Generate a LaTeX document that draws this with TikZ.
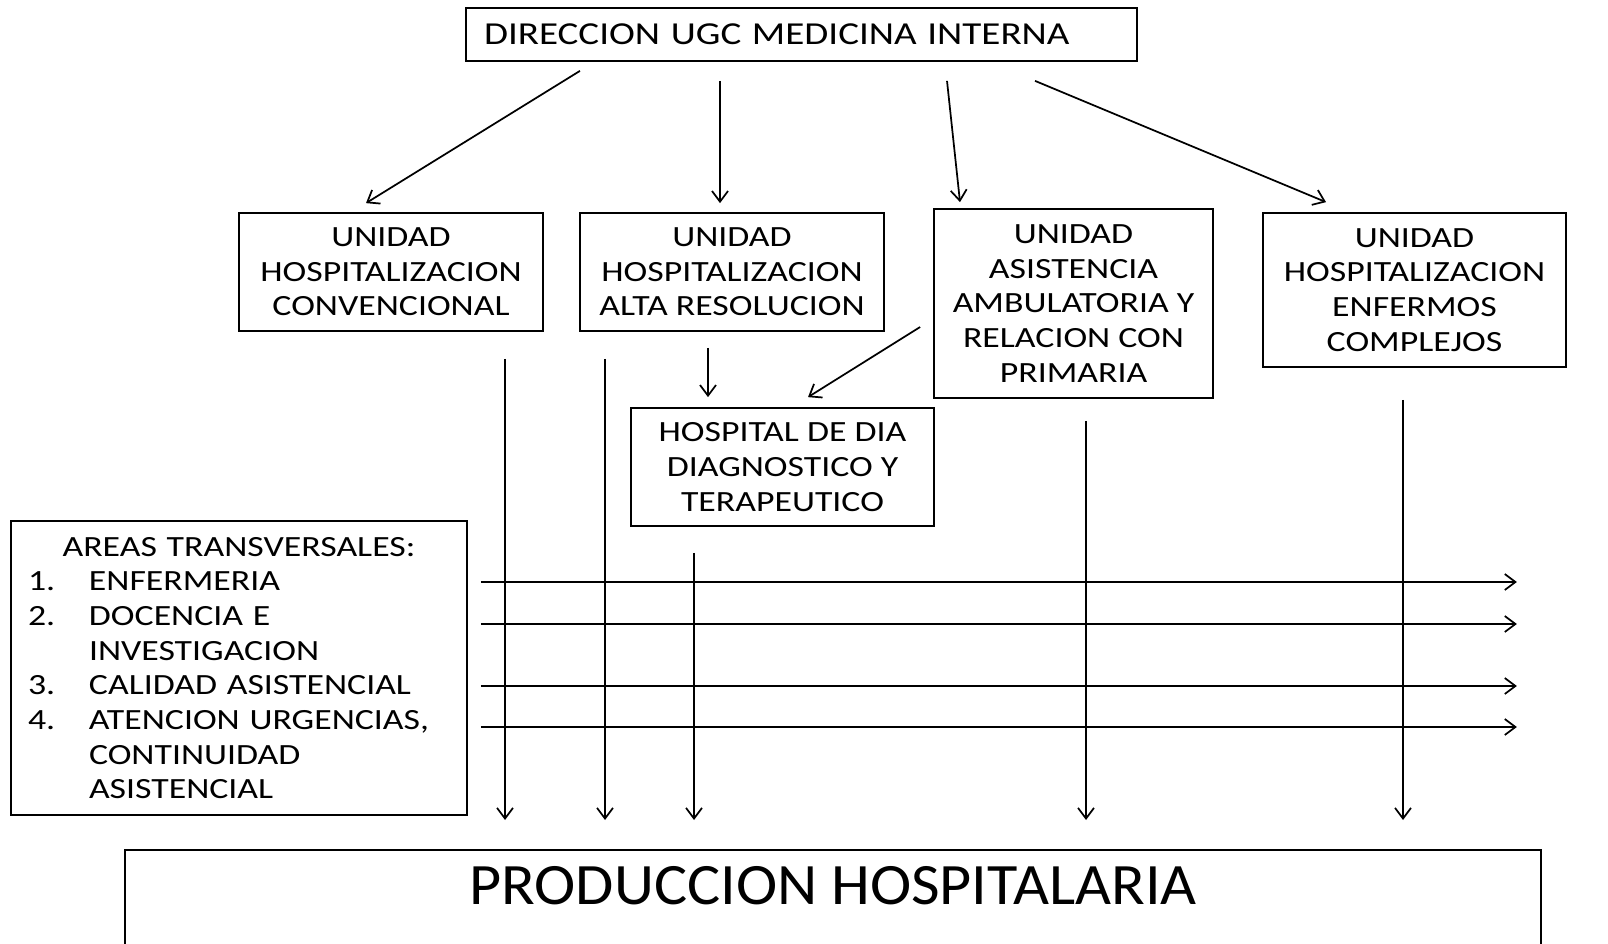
\documentclass[tikz,border=0pt]{standalone}
\usepackage{fontspec}
\setmainfont{Carlito}
\newfontfamily\cajafont{Carlito}[FakeStretch=1.22]
\newfontfamily\prodfont{Carlito}[FakeStretch=1.06]
\usetikzlibrary{arrows.meta,calc,positioning}

\begin{document}
\begin{tikzpicture}[x=0.75pt, y=-0.75pt,
    caja/.style={draw, line width=1.3pt, align=center, inner sep=0pt, font=\cajafont\fontsize{22}{26}\selectfont},
    flecha/.style={-{Straight Barb[length=8pt,width=12pt]}, line width=1.3pt}]

    \useasboundingbox (0,0) rectangle (1608,944);

    \node[caja, minimum width=503.25pt, minimum height=39.75pt, text width=476.25pt, align=left,
          font=\cajafont\fontsize{24}{26}\selectfont] (dir) at (801.5,34.5) {DIRECCION UGC MEDICINA INTERNA};

    \node[caja, minimum width=228pt, minimum height=88.5pt] (uhc) at (391,272) {UNIDAD\\HOSPITALIZACION\\CONVENCIONAL};
    \node[caja, minimum width=228pt, minimum height=88.5pt] (uhar) at (732,272) {UNIDAD\\HOSPITALIZACION\\ALTA RESOLUCION};
    \node[caja, minimum width=209.25pt, minimum height=141.75pt] (uaa) at (1073.5,303.5) {UNIDAD\\ASISTENCIA\\AMBULATORIA Y\\RELACION CON\\PRIMARIA};
    \node[caja, minimum width=227.25pt, minimum height=115.5pt] (uhec) at (1414.5,290) {UNIDAD\\HOSPITALIZACION\\ENFERMOS\\COMPLEJOS};
    \node[caja, minimum width=227.25pt, minimum height=88.5pt] (hdd) at (782.5,467) {HOSPITAL DE DIA\\DIAGNOSTICO Y\\TERAPEUTICO};

    \node[caja, minimum width=342pt, minimum height=220.5pt, text width=316.5pt, align=left] (areas) at (239,668) {%
        \makebox[\linewidth]{AREAS TRANSVERSALES:}\\
        \makebox[45.75pt][l]{1.}ENFERMERIA\\
        \makebox[45.75pt][l]{2.}DOCENCIA E\\
        \hspace*{45.75pt}INVESTIGACION\\
        \makebox[45.75pt][l]{3.}CALIDAD ASISTENCIAL\\
        \makebox[45.75pt][l]{4.}ATENCION URGENCIAS,\\
        \hspace*{45.75pt}CONTINUIDAD\\
        \hspace*{45.75pt}ASISTENCIAL};

    \node[draw, line width=1.3pt, anchor=north, minimum width=1062pt, inner xsep=0pt, inner ysep=12.75pt,
          text height=28.5pt, text depth=60pt, font=\prodfont\fontsize{44}{50}\selectfont] (prod) at (833,849) {PRODUCCION HOSPITALARIA};

    % desde la direccion
    \draw[flecha] ($(dir.south)+(-221.5,9)$) -- ($(uhc.north)+(-25,-9)$);
    \draw[flecha] ($(dir.south)+(-81.5,19)$) -- ($(uhar.north)+(-12,-9)$);
    \draw[flecha] ($(dir.south)+(145.5,19)$) -- ($(uaa.north)+(-113.5,-6)$);
    \draw[flecha] ($(dir.south)+(233.5,19)$) -- ($(uhec.north)+(-88.5,-10)$);

    % hacia el hospital de dia
    \draw[flecha] ($(uhar.south)+(-24,16)$) -- ($(hdd.north)+(-74.5,-10)$);
    \draw[flecha] ($(uaa.west)+(-13,23.5)$) -- ($(hdd.north)+(25.5,-10)$);

    % hacia la produccion
    \draw[flecha] ($(uhc.south)+(114,27)$) -- ($(prod.north)+(-328,-29)$);
    \draw[flecha] ($(uhar.south)+(-127,27)$) -- ($(prod.north)+(-228,-29)$);
    \draw[flecha] ($(hdd.south)+(-88.5,26)$) -- ($(prod.north)+(-139,-29)$);
    \draw[flecha] ($(uaa.south)+(12.5,22)$) -- ($(prod.north)+(253,-29)$);
    \draw[flecha] ($(uhec.south)+(-11.5,32)$) -- ($(prod.north)+(570,-29)$);

    % areas transversales
    \foreach \dy in {-86,-44,18,59}
        \draw[flecha] ($(areas.east)+(13,\dy)$) -- ++(1036,0);

\end{tikzpicture}
\end{document}
